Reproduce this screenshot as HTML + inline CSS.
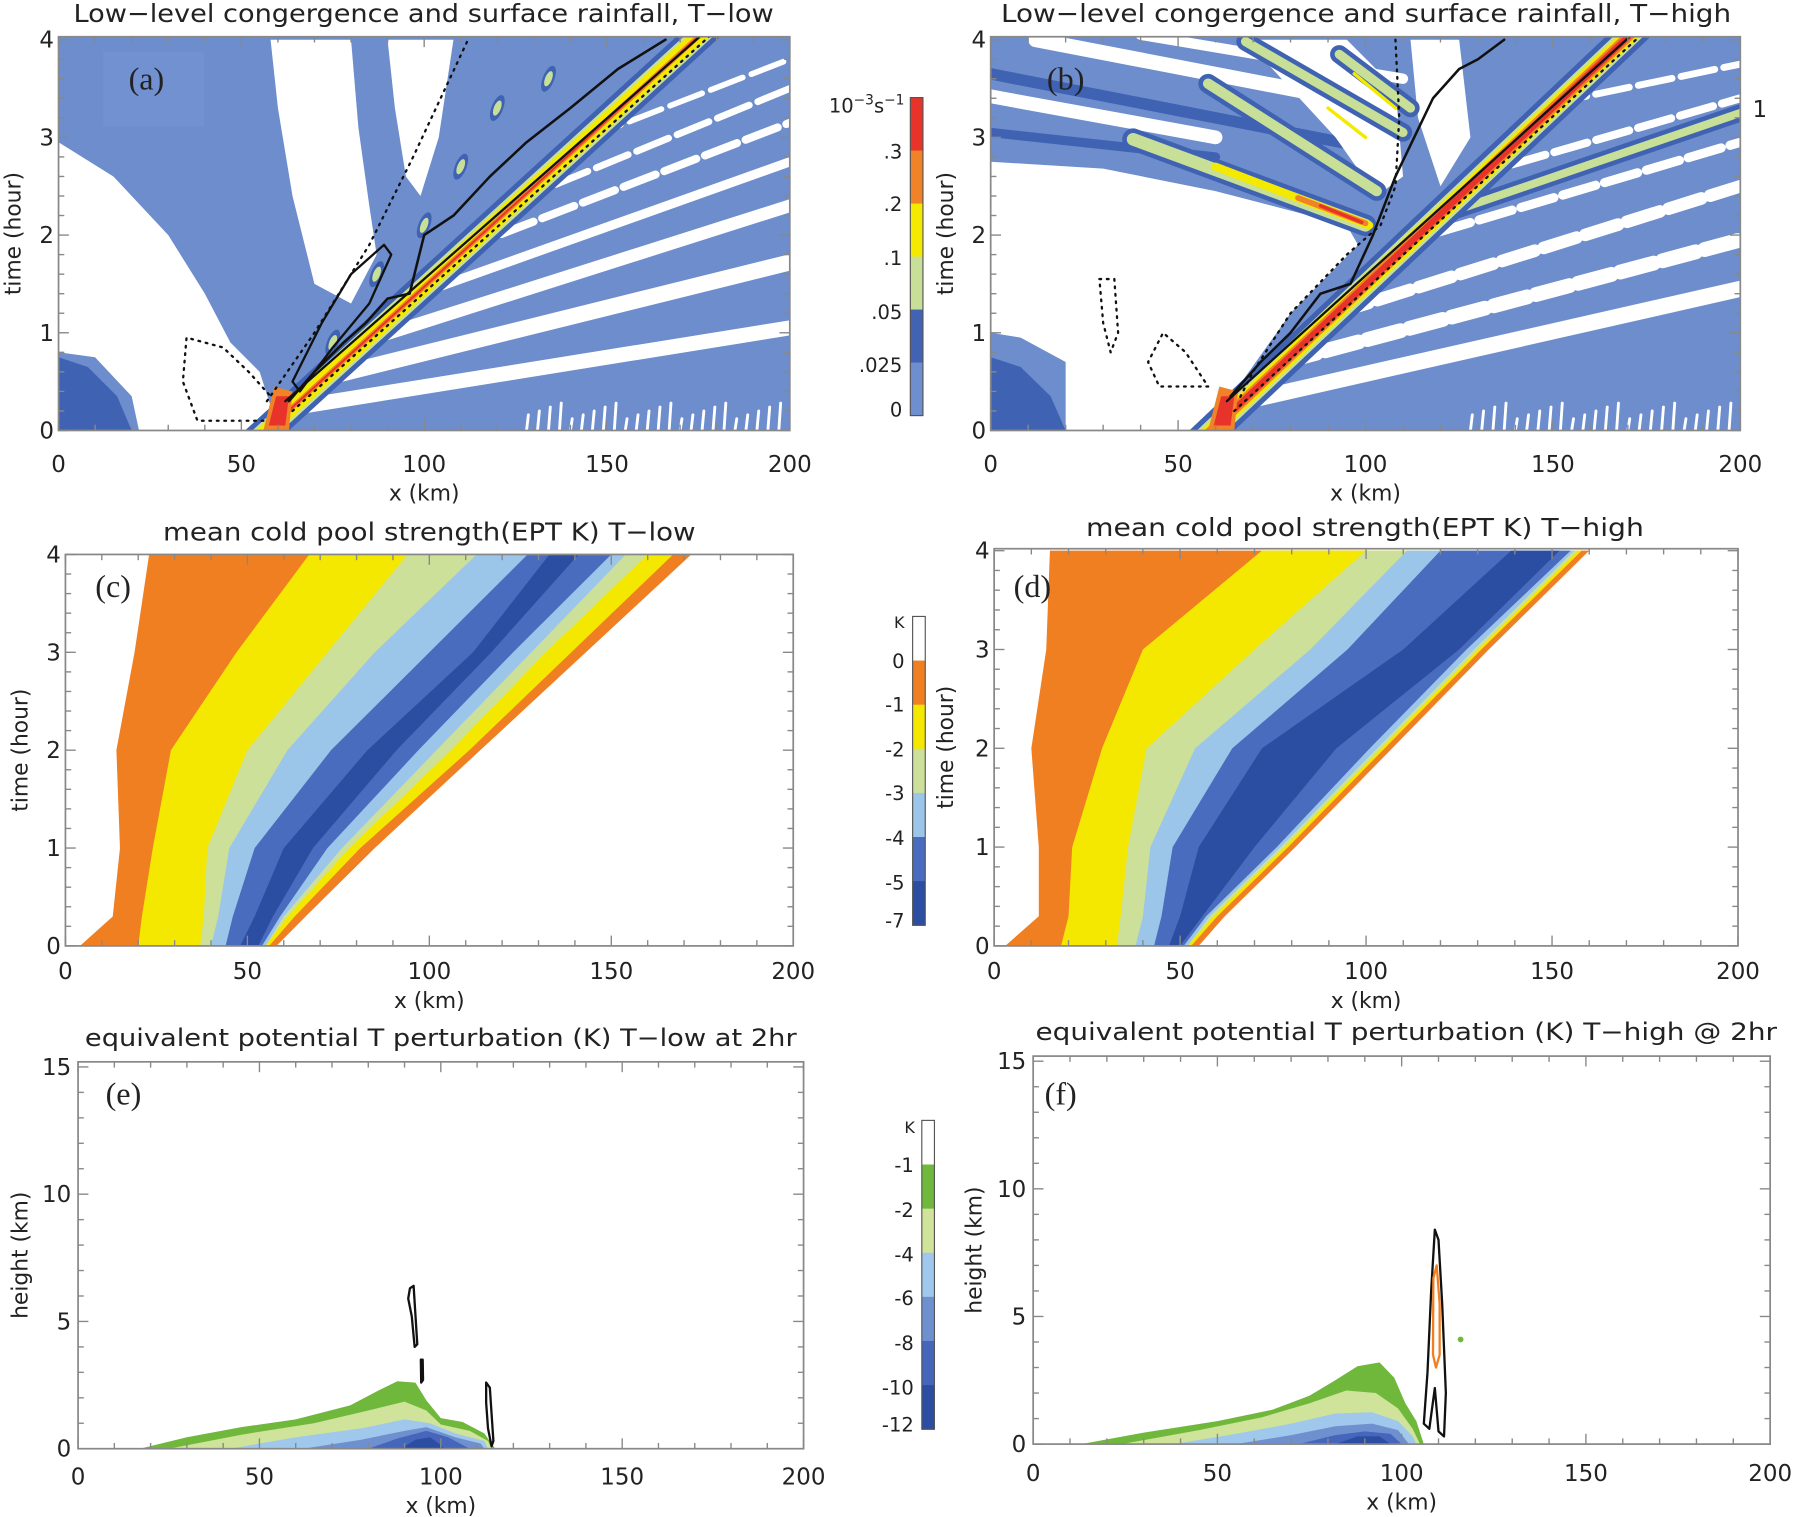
<!DOCTYPE html>
<html><head><meta charset="utf-8"><title>Congergence and cold pool panels</title>
<style>
html,body{margin:0;padding:0;background:#fff;}
svg{display:block;}
text{font-family:"DejaVu Sans","Liberation Sans",sans-serif;fill:#222;}
.pl{font-family:"Liberation Serif",serif;font-size:28px;fill:#222;}
</style></head>
<body>
<svg id="fig" width="1800" height="1517" viewBox="0 0 1568 1321.5" preserveAspectRatio="none" xmlns="http://www.w3.org/2000/svg"></svg>
<script>
// ---------- data ----------
const xTicks=[0,50,100,150,200];
const timeTicks=[0,1,2,3,4];
const heightTicks=[0,5,10,15];
const cb1Labels=[".3",".2",".1",".05",".025","0"];
const cb1Colors=["#e8332a","#f08228","#f4ea00","#c8df98","#4262b4","#6f8ecf"];
const cb2Labels=["0","-1","-2","-3","-4","-5","-7"];
const cb2Colors=["#ffffff","#f07f22","#f4e800","#cde09a","#9cc5ea","#4a6cbf","#2b4da2"];
const cb3Labels=["-1","-2","-4","-6","-8","-10","-12"];
const cb3Colors=["#ffffff","#6fb83c","#cfe39a","#a0c8ec","#6f90cf","#4566bb","#2b4da2"];
// cold pool panel (c): times and boundary x (km) per level
const cpTimes=[0,0.3,1,2,3,4];
const cOrangeL=[4,13,15,14,19,23];
const cFront=[58,66,85,114,143,172];
const cYellowL=[20,21,24,29,47,67];
const cYellowR=[56,63,81,111,139,167];
const cGreenL=[37,38,39,50,72,94];
const cGreenR=[55,61,78,106,132,160];
const cLblueL=[40,42,45,61,85,113];
const cLblueR=[55,60,76,102,128,154];
const cBlueL=[44,46,52,73,100,127];
const cBlueR=[54,59,72,97,123,150];
const cDarkL=[48,52,60,83,112,133];
const cDarkR=[53,57,68,91,117,141];
// panel (d)
const dOrangeL=[3,12,12,10,14,15];
const dFront=[55,62,81,107,133,160];
const dYellowL=[18,20,21,29,40,72];
const dYellowR=[53,60,79,105,131,158];
const dGreenL=[33,34,36,41,70,100];
const dGreenR=[52,59,78,104,130,157];
const dLblueL=[38,40,42,54,85,111];
const dLblueR=[52,58,77,103,129,156];
const dBlueL=[43,45,48,64,95,120];
const dBlueR=[51,57,76,101,127,155];
const dDarkL=[47,50,55,72,110,139];
const dDarkR=[50,56,70,92,125,152];
// EPT cross-sections (e),(f): [x km, z km]
const eGreen=[[17,0],[30,0.45],[45,0.85],[60,1.15],[75,1.7],[83,2.3],[88,2.65],[93,2.6],[96,1.9],[100,1.2],[106,1.05],[112,0.6],[115,0]];
const eLgreen=[[25,0],[45,0.55],[65,1.0],[80,1.5],[90,1.85],[96,1.5],[100,0.95],[108,0.7],[113,0.3],[114,0]];
const eLblue=[[42,0],[60,0.45],[78,0.8],[90,1.15],[97,1.0],[104,0.6],[112,0.3],[113,0]];
const eMblue=[[62,0],[78,0.35],[90,0.7],[96,0.85],[104,0.45],[111,0.2],[112,0]];
const eBlue=[[80,0],[88,0.4],[96,0.7],[102,0.45],[108,0]];
const eDark=[[89,0],[93,0.35],[97,0.45],[100,0.15],[101,0]];
const fGreen=[[13,0],[30,0.45],[50,0.9],[65,1.35],[75,1.9],[82,2.5],[88,3.05],[94,3.2],[98,2.6],[101,1.6],[104,0.9],[106,0]];
const fLgreen=[[24,0],[45,0.55],[62,1.05],[75,1.6],[85,2.1],[93,2.0],[99,1.4],[103,0.6],[105,0]];
const fLblue=[[38,0],[55,0.4],[70,0.8],[82,1.2],[92,1.25],[99,0.9],[103,0.3],[104,0]];
const fMblue=[[55,0],[70,0.35],[82,0.7],[92,0.8],[99,0.55],[102,0]];
const fBlue=[[72,0],[82,0.35],[90,0.5],[97,0.4],[100,0]];
const fDark=[[82,0],[88,0.3],[94,0.3],[97,0]];
const eLoops=[
 [[91.5,6.3],[92.5,6.4],[93.5,4.1],[92.8,4.0],[92,5.2],[91,5.9]],
 [[94.5,3.5],[95,3.5],[95.1,2.7],[94.6,2.6]],
 [[112.5,2.6],[113.5,2.4],[114.5,0.3],[114,0.1],[113,0.8],[112.5,1.8]]
];
const fLoopBlack=[[106,0.8],[107,2.8],[108,6],[109,8.4],[110,8.0],[111,5.5],[112,2],[111.5,0.3],[110,0.5],[109,2.2],[107.5,0.6]];
const fLoopOrange=[[108.5,3.5],[108.6,6.5],[109.5,7.0],[110.3,5.5],[110.3,3.5],[109.3,3.0]];
// convergence panels: [x km, t hr]
const aWhite=[
 [[0,2.95],[15,2.6],[30,2.0],[40,1.4],[47,0.9],[55,0.6],[58,0.25],[57,0],[22,0],[20,0.35],[10,0.75],[0,0.8]],
 [[58,4],[80,4],[82,3.1],[85,2.3],[87,1.8],[80,1.3],[70,1.5],[64,2.4],[60,3.3]],
 [[90,4],[108,4],[104,3.0],[99,2.4],[95,2.6],[92,3.3]],
 [[0,2.7],[8,2.5],[12,2.2],[5,2.1],[0,2.25]]
];
const aStripes=[[[67,0.25],[200,1.05],13],[[74,0.55],[200,1.72],14],[[84,0.92],[200,2.3],11],[[95,1.35],[200,2.75],8],[[110,1.85],[200,3.15],7],[[125,2.35],[200,3.5],6],[[145,3.0],[200,3.8],5]];
const bWhite=[
 [[0,2.75],[30,2.68],[60,2.45],[80,2.25],[95,2.1],[98,1.9],[80,1.2],[67,0.5],[62,0],[20,0],[20,0.7],[8,0.95],[0,1.0]],
 [[68,4],[95,4],[108,3.5],[110,2.6],[103,2.4],[92,3.0]],
 [[112,4],[125,4],[128,3.0],[120,2.5],[114,3.2]]
];
const bStripes=[[[0,3.42],[60,3.0],12],[[12,4.0],[100,3.35],13],[[40,4.05],[110,3.6],9],[[68,0.3],[200,1.45],14],[[78,0.7],[200,1.95],13],[[92,1.2],[200,2.5],11],[[108,1.9],[200,2.95],8],[[128,2.6],[200,3.4],7],[[150,3.35],[200,3.75],6]];
const bGreenStripes=[[[38,2.98],[100,2.1],11],[[58,3.55],[103,2.45],9],[[68,3.98],[110,3.05],8],[[93,3.85],[112,3.3],8],[[120,2.2],[200,3.25],7]];
const aBlobs=[[75,0.9],[87,1.6],[100,2.1],[110,2.7],[120,3.3],[134,3.6]];
const aContourOuter=[[63,0.3],[70,0.6],[78,0.9],[84,1.1],[90,1.35],[96,1.4],[100,2.0],[108,2.2],[118,2.6],[128,2.95],[140,3.3],[153,3.7],[166,4]];
const aContourLoop=[[64,0.5],[72,1.1],[80,1.6],[89,1.9],[91,1.8],[85,1.3],[75,0.85],[66,0.4]];
const aDotLine=[[57,0.3],[70,1.0],[85,1.9],[97,2.8],[112,4]];
const aDotLoop=[[56,0.1],[38,0.1],[34,0.5],[35,0.95],[45,0.85],[52,0.6],[58,0.35]];
const bContourOuter=[[64,0.35],[72,0.7],[80,1.0],[88,1.4],[96,1.5],[102,2.0],[108,2.6],[113,3.0],[118,3.4],[125,3.7],[130,3.8],[137,4]];
const bDotLine=[[108,4],[109,3.2],[108,2.5],[104,2.1],[95,1.8],[80,1.2],[70,0.6],[66,0.3]];
const bDotLoop1=[[29,1.55],[33,1.55],[34,1.0],[32,0.8],[30,1.1]];
const bDotLoop2=[[48,0.45],[45,0.45],[42,0.7],[46,1.0],[52,0.8],[58,0.45]];

// ---------- helpers ----------
const NS="http://www.w3.org/2000/svg";
const svg=document.getElementById('fig');
function el(tag,attrs,parent){const e=document.createElementNS(NS,tag);for(const k in attrs)e.setAttribute(k,attrs[k]);(parent||svg).appendChild(e);return e;}
function panel(x0,x1,yb,yt,xmax,ymax){return {x0,x1,yb,yt,sx:v=>x0+(x1-x0)*v/xmax,sy:v=>yb-(yb-yt)*v/ymax,xmax,ymax};}
const PA=panel(51,688,375,32,200,4.03);
const PB=panel(863,1516,375,32,200,4.03);
const PC=panel(57,691,824,483,200,4.0);
const PD=panel(866,1514,824,478,200,4.02);
const PE=panel(68,700,1262,925,200,15.2);
const PF=panel(900,1542,1258,920,200,15.2);
function pts(P,arr){return arr.map(p=>P.sx(p[0]).toFixed(1)+','+P.sy(p[1]).toFixed(1)).join(' ');}
function clipFor(P,id){const c=el('clipPath',{id});el('rect',{x:P.x0,y:P.yt,width:P.x1-P.x0,height:P.yb-P.yt},c);return 'url(#'+id+')';}
function bandPoly(P,L,R){const a=cpTimes.map((t,i)=>[L[i],t]);const b=cpTimes.map((t,i)=>[R[i],t]).reverse();return pts(P,a.concat(b));}
function frame(P,name,minorY){
  const g=el('g',{});
  
  
  el('rect',{x:P.x0,y:P.yt,width:P.x1-P.x0,height:P.yb-P.yt,fill:'none',stroke:'#888','stroke-width':1.5},g);
  for(let v=0;v<=200;v+=10){const x=P.sx(v);const L=v%50==0?9:5;
    el('line',{x1:x,y1:P.yb,x2:x,y2:P.yb-L,stroke:'#888','stroke-width':1.2},g);
    el('line',{x1:x,y1:P.yt,x2:x,y2:P.yt+L,stroke:'#888','stroke-width':1.2},g);}
  for(let v=0;v<=P.ymax+1e-6;v+=minorY){const y=P.sy(v);const maj=Math.abs(v/ (minorY*5)-Math.round(v/(minorY*5)))<1e-6;const L=maj?9:5;
    el('line',{x1:P.x0,y1:y,x2:P.x0+L,y2:y,stroke:'#888','stroke-width':1.2},g);
    el('line',{x1:P.x1,y1:y,x2:P.x1-L,y2:y,stroke:'#888','stroke-width':1.2},g);}
}
function txt(x,y,s,size,name,anchor,extra){const t=el('text',Object.assign({x,y,'font-size':size,'text-anchor':anchor||'middle'},extra||{}));t.textContent=s;return t;}
function xLabels(P,y,name){xTicks.forEach(v=>txt(P.sx(v),y,String(v),20,name+'-x-tick'));txt((P.x0+P.x1)/2,y+25,'x (km)',19,name+'-x-title');}
function yLabels(P,ticks,xoff,name,title,tx){ticks.forEach(v=>txt(P.x0-xoff,P.sy(v)+7,String(v),20,name+'-y-tick','end'));
  txt(0,0,title,19,name+'-y-title','middle',{transform:'translate('+tx+','+((P.yb+P.yt)/2)+') rotate(-90)'});}
function poly(g,P,arr,fill,name){const p=el('polygon',{points:pts(P,arr),fill},g);return p;}
function line(g,P,arr,stroke,w,name,dash,closed){const p=el(closed?'polygon':'polyline',{points:pts(P,arr),fill:'none',stroke,'stroke-width':w,'stroke-linejoin':'round','stroke-linecap':'round'},g);if(dash)p.setAttribute('stroke-dasharray',dash);return p;}
function stripe(g,P,s,color,name,dash){const l=el('line',{x1:P.sx(s[0][0]),y1:P.sy(s[0][1]),x2:P.sx(s[1][0]),y2:P.sy(s[1][1]),stroke:color,'stroke-width':s[2],'stroke-linecap':'round'},g);if(dash)l.setAttribute('stroke-dasharray',dash);}
function band(g,P,x0,x1,t1,half,color,name){const d=half;return poly(g,P,[[x0-d,0],[x1-d,t1],[x1+d,t1],[x0+d,0]],color,name);}

// ---------- convergence panels ----------
function convPanel(P,id,whites,stripes,greens,c0,c1,isB){
  const g=el('g',{'clip-path':clipFor(P,'clip'+id)});
  
  
  const r=el('rect',{x:P.x0,y:P.yt,width:P.x1-P.x0,height:P.yb-P.yt,fill:'#6d8dcd'},g);
  
  poly(g,P,[[0,0],[20,0],[16,0.35],[8,0.65],[0,0.75]],'#4062b2','dark-blue-blob');
  if(isB){
    stripe(g,P,[[0,3.65],[100,2.9],10],'#4062b2','dark-blue-stripe');
    stripe(g,P,[[0,3.05],[60,2.8],8],'#4062b2','dark-blue-stripe');
  }
  whites.forEach(w=>poly(g,P,w,'#ffffff','white-region'));
  stripes.forEach((s,i)=>stripe(g,P,s,'#ffffff','white-stripe',i>3?'30 8':null));
  for(let v=128;v<198;v+=3){stripe(g,P,[[v,0],[v+0.5,0.12+((v*7)%5)/25],2.5],'#ffffff','white-spike');}
  greens.forEach(s=>{stripe(g,P,[s[0],s[1],s[2]+8],'#4062b2','green-stripe-edge');stripe(g,P,s,'#c8df98','green-stripe');});
  if(isB){stripe(g,P,[[60,2.7],[101,2.1],7],'#f4ea00','yellow-branch');stripe(g,P,[[82,2.38],[100,2.12],5],'#f08228','orange-branch');stripe(g,P,[[88,2.3],[99,2.13],3],'#e8332a','red-branch');
    stripe(g,P,[[90,3.3],[100,3.0],3],'#f4ea00','yellow-branch-2');stripe(g,P,[[97,3.65],[108,3.3],3],'#f4ea00','yellow-branch-3');}
  if(!isB){aBlobs.forEach(b=>{const e=el('ellipse',{cx:P.sx(b[0]),cy:P.sy(b[1]),rx:12,ry:5,fill:'#4062b2',transform:'rotate(-68 '+P.sx(b[0])+' '+P.sy(b[1])+')'},g);
      const e2=el('ellipse',{cx:P.sx(b[0]),cy:P.sy(b[1]),rx:7,ry:3,fill:'#c8df98',transform:'rotate(-68 '+P.sx(b[0])+' '+P.sy(b[1])+')'},g);});}
  band(g,P,c0,c1,4.1,6,'#4062b2','band-blue');
  band(g,P,c0,c1,4.1,4,'#c8df98','band-green');
  band(g,P,c0,c1,4.1,3,'#f4ea00','band-yellow');
  band(g,P,c0,c1,4.1,isB?2:1,'#f08228','band-orange');
  band(g,P,c0,c1,4.1,isB?1.2:0.4,'#e8332a','band-red');
  poly(g,P,[[c0-1,0],[c0+6,0],[c0+7,0.4],[c0+2,0.45]],'#f08228','band-root-orange');
  poly(g,P,[[c0+0.5,0.05],[c0+5,0.05],[c0+6,0.35],[c0+2.5,0.35]],'#e8332a','band-root-red');
  return g;
}
const gA=convPanel(PA,'a',aWhite,aStripes,[],57,177,false);
line(gA,PA,aContourOuter,'#111',2.2,'rain-contour');
line(gA,PA,[[62,0.3],[177.5,4.1]],'#111',2,'rain-contour-inner');
line(gA,PA,aContourLoop,'#111',2,'rain-contour-loop',null,true);
line(gA,PA,aDotLine,'#111',2,'dotted-contour','1.5 5');
line(gA,PA,aDotLoop,'#111',2,'dotted-loop','1.5 5');
line(gA,PA,[[64,0.2],[180,4.1]],'#111',2,'dotted-band','1.5 5');

const gB=convPanel(PB,'b',bWhite,bStripes,bGreenStripes,59,172,true);
line(gB,PB,bContourOuter,'#111',2.2,'rain-contour');
line(gB,PB,[[63,0.3],[172.5,4.1]],'#111',2,'rain-contour-inner');
line(gB,PB,bDotLine,'#111',2,'dotted-contour','1.5 5');
line(gB,PB,bDotLoop1,'#111',2,'dotted-loop','1.5 5',true);
line(gB,PB,bDotLoop2,'#111',2,'dotted-loop','1.5 5',true);
line(gB,PB,[[65,0.2],[175,4.1]],'#111',2,'dotted-band','1.5 5');

// ---------- cold pool panels ----------
function cpPanel(P,id,arrs){
  const g=el('g',{'clip-path':clipFor(P,'clip'+id)});
  
  
  const names=['orange','yellow','light-green','light-blue','blue','dark-blue'];
  const cols=['#f07f22','#f4e800','#cde09a','#9cc5ea','#4a6cbf','#2b4da2'];
  arrs.forEach((a,i)=>{const p=el('polygon',{points:bandPoly(P,a[0],a[1]),fill:cols[i]},g);});
  return g;
}
cpPanel(PC,'c',[[cOrangeL,cFront],[cYellowL,cYellowR],[cGreenL,cGreenR],[cLblueL,cLblueR],[cBlueL,cBlueR],[cDarkL,cDarkR]]);
cpPanel(PD,'d',[[dOrangeL,dFront],[dYellowL,dYellowR],[dGreenL,dGreenR],[dLblueL,dLblueR],[dBlueL,dBlueR],[dDarkL,dDarkR]]);

// ---------- EPT panels ----------
function eptPanel(P,id,levels,loops,orange){
  const g=el('g',{'clip-path':clipFor(P,'clip'+id)});
  
  
  const cols=['#6fb83c','#cfe39a','#a0c8ec','#6f90cf','#4566bb','#2b4da2'];
  levels.forEach((a,i)=>poly(g,P,a,cols[i],'ept-level-'+i));
  loops.forEach(l=>line(g,P,l,'#111',2,'cloud-contour',null,true));
  if(orange)line(g,P,orange,'#f07f22',2,'orange-contour',null,true);
  return g;
}
eptPanel(PE,'e',[eGreen,eLgreen,eLblue,eMblue,eBlue,eDark],eLoops,null);
const gF=eptPanel(PF,'f',[fGreen,fLgreen,fLblue,fMblue,fBlue,fDark],[fLoopBlack],fLoopOrange);
const dot=el('circle',{cx:PF.sx(116),cy:PF.sy(4.1),r:2.5,fill:'#6fb83c'},gF);


// ---------- frames & labels ----------
frame(PA,'panel-a',0.2);frame(PB,'panel-b',0.2);frame(PC,'panel-c',0.2);frame(PD,'panel-d',0.2);frame(PE,'panel-e',1);frame(PF,'panel-f',1);
xLabels(PA,411,'panel-a');xLabels(PB,411,'panel-b');xLabels(PC,853,'panel-c');xLabels(PD,853,'panel-d');xLabels(PE,1293,'panel-e');xLabels(PF,1290,'panel-f');
yLabels(PA,timeTicks,4,'panel-a','time (hour)',18);
yLabels(PB,timeTicks,4,'panel-b','time (hour)',830);
yLabels(PC,timeTicks,4,'panel-c','time (hour)',24);
yLabels(PD,timeTicks,4,'panel-d','time (hour)',830);
yLabels(PE,heightTicks,6,'panel-e','height (km)',24);
yLabels(PF,heightTicks,6,'panel-f','height (km)',855);
txt(369,19,'Low−level congergence and surface rainfall, T−low',22,'title-a','middle',{textLength:610,lengthAdjust:'spacingAndGlyphs'});
txt(1190,19,'Low−level congergence and surface rainfall, T−high',22,'title-b','middle',{textLength:636,lengthAdjust:'spacingAndGlyphs'});
txt(374,471,'mean cold pool strength(EPT K) T−low',22,'title-c','middle',{textLength:464,lengthAdjust:'spacingAndGlyphs'});
txt(1189,467,'mean cold pool strength(EPT K) T−high',22,'title-d','middle',{textLength:486,lengthAdjust:'spacingAndGlyphs'});
txt(384,911,'equivalent potential T perturbation (K) T−low at 2hr',21,'title-e','middle',{textLength:620,lengthAdjust:'spacingAndGlyphs'});
txt(1225,906,'equivalent potential T perturbation (K) T−high @ 2hr',21,'title-f','middle',{textLength:646,lengthAdjust:'spacingAndGlyphs'});
[['(a)',112,78],['(b)',912,78],['(c)',83,520],['(d)',883,520],['(e)',92,962],['(f)',910,962]].forEach(p=>{const t=el('text',{x:p[1],y:p[2],class:'pl'});t.textContent=p[0];});
txt(1533,102,'1',20,'stray-label','middle');
const pa=el('rect',{x:90,y:45,width:88,height:65,fill:'#7896d3',opacity:0.5});
svg.insertBefore(pa,svg.querySelector('.pl'));

// ---------- colorbars ----------
function colorbar(x,y0,y1,cols,labels,labelYs,name){
  const g=el('g',{});
  const h=(y1-y0)/cols.length;
  cols.forEach((c,i)=>{const r=el('rect',{x,y:y0+i*h,width:11,height:h+0.5,fill:c},g);});
  el('rect',{x,y:y0,width:11,height:y1-y0,fill:'none',stroke:'#555','stroke-width':1},g);
  labels.forEach((l,i)=>txt(x-7,labelYs[i]+6,l,17,name+'-label','end'));
  return g;
}
colorbar(793,85,362,cb1Colors,cb1Labels,[132,178,225,272,318,357],'colorbar-convergence');
const u=txt(786,98,'10',17,'colorbar-unit','end');const us=el('tspan',{dy:-7,'font-size':12},u);us.textContent='−3';const u2=el('tspan',{dy:7},u);u2.textContent='s';const u3=el('tspan',{dy:-7,'font-size':12},u);u3.textContent='−1';
u.setAttribute('x',722);u.setAttribute('text-anchor','start');
colorbar(795,537,806,cb2Colors,cb2Labels,[576,614,653,691,730,769,802],'colorbar-cold-pool');
txt(788,547,'K',14,'colorbar-cold-pool-unit','end');
colorbar(803,976,1245,cb3Colors,cb3Labels,[1015,1054,1093,1131,1170,1209,1241],'colorbar-ept');
txt(797,987,'K',14,'colorbar-ept-unit','end');
</script>
</body></html>
